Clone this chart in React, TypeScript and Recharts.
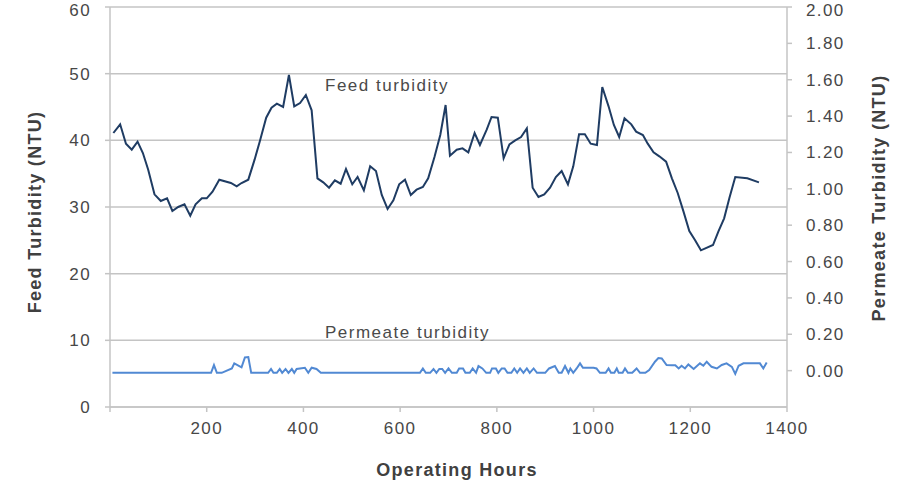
import { CartesianGrid, Label, Line, LineChart, XAxis, YAxis } from "recharts";

const FEED_LINE = "#1f3c63";
const PERM_LINE = "#5189d3";
const GRID = "#c4c4c4";
const TICK_TEXT = "#474747";
const TITLE_TEXT = "#404040";
const FONT = "'Liberation Sans', Arial, sans-serif";

// operating hours vs. feed turbidity (NTU), left axis
const feedHours = [
  7, 21, 33, 45, 57, 68, 79, 92, 105, 118, 129, 141, 154, 166, 177, 190, 200,
  212, 226, 250, 262, 272, 286, 299, 310, 323, 334, 345, 358, 370, 381, 393,
  405, 417, 429, 441, 453, 465, 477, 488, 501, 512, 525, 538, 550, 562, 574,
  586, 598, 610, 622, 634, 647, 658, 671, 683, 694, 703, 717, 729, 741, 754,
  765, 779, 789, 802, 814, 826, 838, 850, 862, 874, 886, 898, 910, 922, 934,
  947, 958, 970, 982, 994, 1007, 1018, 1031, 1042, 1053, 1064, 1078, 1088,
  1102, 1112, 1124, 1136, 1150, 1162, 1174, 1186, 1198, 1210, 1222, 1247,
  1258, 1270, 1281, 1293, 1318, 1342,
];
const feedValues = [
  41.1, 42.4, 39.5, 38.6, 39.8, 38.1, 35.6, 31.9, 30.9, 31.3, 29.4, 30.0, 30.4,
  28.7, 30.4, 31.3, 31.3, 32.3, 34.1, 33.6, 33.1, 33.6, 34.1, 37.1, 39.9, 43.4,
  44.9, 45.5, 45.0, 49.8, 45.1, 45.6, 46.8, 44.5, 34.3, 33.7, 32.9, 34.0, 33.5,
  35.7, 33.4, 34.5, 32.5, 36.1, 35.4, 31.8, 29.7, 31.0, 33.4, 34.1, 31.8, 32.6,
  33.0, 34.3, 37.5, 40.8, 45.3, 37.7, 38.6, 38.8, 38.2, 41.1, 39.3, 41.6, 43.5,
  43.4, 37.3, 39.4, 40.0, 40.5, 41.8, 32.9, 31.5, 31.9, 32.9, 34.5, 35.4, 33.4,
  36.1, 40.9, 40.9, 39.5, 39.3, 48.0, 45.1, 42.3, 40.5, 43.3, 42.4, 41.3, 40.8,
  39.5, 38.2, 37.6, 36.8, 34.3, 32.1, 29.3, 26.4, 25.0, 23.5, 24.3, 26.3, 28.3,
  31.4, 34.5, 34.3, 33.7,
];

// operating hours vs. permeate turbidity (NTU), right axis
const permHours = [
  5, 209, 215, 221, 231, 252, 257, 272, 279, 286, 292, 327, 333, 338, 345, 351,
  356, 363, 369, 376, 381, 386, 403, 410, 417, 427, 436, 641, 647, 653, 662,
  669, 675, 681, 687, 693, 700, 707, 717, 722, 730, 735, 744, 750, 757, 762,
  770, 778, 786, 790, 798, 803, 810, 816, 822, 830, 836, 842, 848, 855, 862,
  868, 876, 883, 890, 900, 908, 920, 928, 934, 941, 948, 952, 958, 965, 972,
  978, 986, 1000, 1006, 1013, 1025, 1031, 1036, 1043, 1048, 1052, 1060, 1065,
  1071, 1080, 1089, 1096, 1107, 1115, 1127, 1134, 1141, 1151, 1162, 1169, 1176,
  1182, 1189, 1196, 1207, 1220, 1227, 1234, 1244, 1255, 1265, 1275, 1286, 1293,
  1300, 1310, 1344, 1351, 1358,
];
const permValues = [
  -0.012, -0.012, 0.03, -0.012, -0.012, 0.012, 0.04, 0.018, 0.073, 0.075,
  -0.012, -0.012, 0.009, -0.012, -0.012, 0.009, -0.012, 0.009, -0.012, 0.009,
  -0.012, 0.009, 0.016, -0.012, 0.016, 0.009, -0.012, -0.012, 0.012, -0.012,
  -0.012, 0.009, -0.012, 0.009, 0.009, -0.012, 0.012, -0.012, -0.012, 0.012,
  0.012, -0.012, -0.012, 0.012, -0.012, 0.025, 0.012, -0.012, -0.012, 0.012,
  0.012, -0.012, 0.012, 0.012, -0.012, -0.012, 0.012, -0.012, 0.012, -0.012,
  0.012, -0.012, 0.012, -0.012, -0.012, -0.012, 0.012, 0.025, -0.012, -0.012,
  0.025, -0.012, 0.012, -0.012, 0.012, 0.04, 0.016, 0.016, 0.016, 0.012,
  -0.012, -0.012, 0.012, -0.012, -0.012, 0.012, -0.012, -0.012, 0.012, -0.012,
  -0.012, 0.012, -0.012, -0.012, 0.003, 0.049, 0.069, 0.067, 0.031, 0.03,
  0.03, 0.012, 0.027, 0.012, 0.034, 0.009, 0.04, 0.027, 0.049, 0.021, 0.012,
  0.031, 0.04, 0.021, -0.018, 0.027, 0.04, 0.04, 0.012, 0.045,
];

const xTicks = [0, 200, 400, 600, 800, 1000, 1200, 1400];
const feedTicks = [0, 10, 20, 30, 40, 50, 60];
const permTicks = [0, 0.2, 0.4, 0.6, 0.8, 1.0, 1.2, 1.4, 1.6, 1.8, 2.0];

const feedData = feedHours.map((h, i) => ({ h, v: feedValues[i] }));
const permData = permHours.map((h, i) => ({ h, v: permValues[i] }));

const tickStyle = {
  fontSize: 17,
  fill: TICK_TEXT,
  fontFamily: FONT,
  letterSpacing: 1.4,
};
const titleStyle = {
  fontSize: 18,
  fontWeight: 700,
  fill: TITLE_TEXT,
  fontFamily: FONT,
  letterSpacing: 1.3,
};
const noteStyle = {
  fontSize: 17,
  fill: "#4a4a4a",
  fontFamily: FONT,
  letterSpacing: 1.5,
};

export default function App() {
  return (
    <div
      style={{
        position: "absolute",
        left: 0,
        top: 0,
        width: 908,
        height: 480,
        background: "#fff",
      }}
    >
      <LineChart
        width={908}
        height={480}
        margin={{ top: 7, right: 0, bottom: 0, left: 0 }}
      >
        <CartesianGrid
          yAxisId="left"
          stroke={GRID}
          strokeWidth={1.5}
          vertical={false}
        />
        <XAxis
          dataKey="h"
          type="number"
          domain={[0, 1400]}
          ticks={xTicks}
          tickFormatter={(v) => (v === 0 ? "" : String(v))}
          height={73}
          stroke={GRID}
          strokeWidth={1.5}
          tickSize={5}
          tickMargin={10}
          tick={tickStyle}
          allowDuplicatedCategory={false}
        >
          <Label
            content={() => (
              <g>
                <text x={457} y={476} textAnchor="middle" style={titleStyle}>
                  Operating Hours
                </text>
                <text x={325} y={91} style={noteStyle}>
                  Feed turbidity
                </text>
                <text x={325} y={338} style={noteStyle}>
                  Permeate turbidity
                </text>
              </g>
            )}
          />
        </XAxis>
        <YAxis
          yAxisId="left"
          domain={[0, 60]}
          ticks={feedTicks}
          width={110}
          stroke={GRID}
          strokeWidth={1.5}
          tickSize={5}
          tickMargin={14}
          tick={tickStyle}
        >
          <Label
            content={() => (
              <text
                x={41}
                y={212}
                textAnchor="middle"
                transform="rotate(-90 41 212)"
                style={titleStyle}
              >
                Feed Turbidity (NTU)
              </text>
            )}
          />
        </YAxis>
        <YAxis
          yAxisId="right"
          orientation="right"
          domain={[-0.2, 2]}
          ticks={permTicks}
          tickFormatter={(v) => v.toFixed(2)}
          width={121}
          stroke={GRID}
          strokeWidth={1.5}
          tickSize={5}
          tickMargin={14}
          tick={{ ...tickStyle, textAnchor: "start" }}
        >
          <Label
            content={() => (
              <text
                x={885}
                y={198}
                textAnchor="middle"
                transform="rotate(-90 885 198)"
                style={titleStyle}
              >
                Permeate Turbidity (NTU)
              </text>
            )}
          />
        </YAxis>
        <Line
          yAxisId="left"
          data={feedData}
          dataKey="v"
          type="linear"
          stroke={FEED_LINE}
          strokeWidth={2}
          dot={false}
          activeDot={false}
          isAnimationActive={false}
        />
        <Line
          yAxisId="right"
          data={permData}
          dataKey="v"
          type="linear"
          stroke={PERM_LINE}
          strokeWidth={2}
          dot={false}
          activeDot={false}
          isAnimationActive={false}
        />
      </LineChart>
    </div>
  );
}
